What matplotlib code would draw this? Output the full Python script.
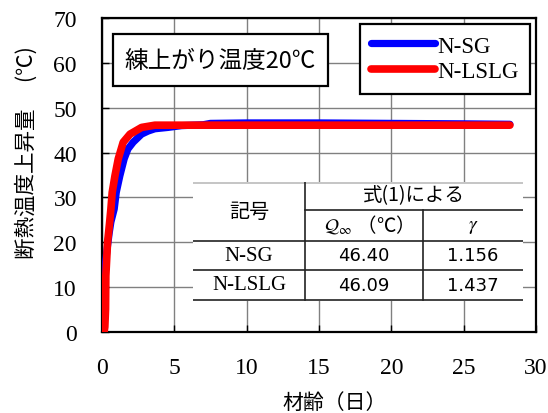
import matplotlib
matplotlib.use('Agg')
import matplotlib.pyplot as plt
from matplotlib.patches import Rectangle

plt.rcParams['font.family'] = ['Liberation Serif', 'Noto Sans CJK JP']
plt.rcParams['mathtext.fontset'] = 'stix'

# curves (age in days, adiabatic temperature rise)
t_sg = [0.0, 0.03, 0.06, 0.25, 0.38, 0.5, 0.62, 0.85, 0.99, 1.24, 1.54, 1.8,
        2.16, 2.74, 3.2, 3.66, 4.56, 5.5, 7.0, 7.5, 10, 15, 20, 25, 28.2]
temp_sg = [0.0, 5.0, 13.0, 15.5, 19.0, 22.0, 24.5, 27.4, 31.1, 34.8, 38.6, 40.8,
           42.3, 44.1, 44.8, 45.3, 45.6, 46.0, 46.2, 46.5, 46.6, 46.6, 46.5, 46.4, 46.3]

t_lslg = [0.15, 0.2, 0.25, 0.27, 0.39, 0.52, 0.62, 0.71, 0.9, 1.13, 1.47,
          1.94, 2.74, 3.66, 5, 10, 15, 20, 25, 28.2]
temp_lslg = [0.0, 1.1, 5.1, 12.5, 20.0, 24.0, 27.4, 31.1, 34.8, 38.6, 42.3,
             44.1, 45.6, 46.1, 46.1, 46.1, 46.1, 46.1, 46.1, 46.1]

series = ['N-SG', 'N-LSLG']
q_inf = ['46.40', '46.09']
gamma = ['1.156', '1.437']

fig = plt.figure(figsize=(5.48, 4.14), dpi=100)
ax = fig.add_axes([0.186, 0.196, 0.792, 0.758])

ax.plot(t_sg, temp_sg, color='#0000ff', lw=5.2, solid_capstyle='round', label=series[0], zorder=3)
ax.plot(t_lslg, temp_lslg, color='#ff0000', lw=5.5, solid_capstyle='round', label=series[1], zorder=4)

ax.set_xlim(0, 30)
ax.set_ylim(0, 70)
ax.set_xticks(range(0, 31, 5))
ax.set_yticks(range(0, 71, 10))
ax.grid(True, color='#808080', lw=1.0)
ax.set_axisbelow(True)
ax.tick_params(direction='in', length=5, width=1, labelsize=17, pad=18)
for s in ax.spines.values():
    s.set_linewidth(1.6)

fig.text(27 / 548, 1 - 153 / 414, '断熱温度上昇量　 (℃)', fontsize=15.5, rotation=90,
         family=['Noto Sans CJK JP'], ha='center', va='center')
fig.text(0.61, 0.0, '材齢（日）', fontsize=15, family=['Noto Sans CJK JP'], ha='center', va='bottom')

# condition box
ax.add_patch(Rectangle((0.025, 0.783), 0.495, 0.165, transform=ax.transAxes,
                       facecolor='white', edgecolor='black', lw=1.6, zorder=5))
ax.text(0.272, 0.865, '練上がり温度20℃', transform=ax.transAxes, fontsize=17,
        family=['Noto Sans CJK JP'], ha='center', va='center', zorder=6)

leg = ax.legend(loc='upper right', bbox_to_anchor=(0.987, 0.981), fontsize=16.5,
                handlelength=2.8, handletextpad=0.1, labelspacing=0.2,
                borderpad=0.5, borderaxespad=0, fancybox=False, framealpha=1,
                edgecolor='black')
leg.get_frame().set_linewidth(1.6)
leg.set_zorder(6)

# parameter table (figure pixel layout -> axes inset)
tab = fig.add_axes([193 / 548, 1 - 302 / 414, 330 / 548, 119 / 414])
tab.set_xlim(193, 523)
tab.set_ylim(302, 183)
tab.axis('off')
tab.add_patch(Rectangle((193, 183), 330, 119, facecolor='white', edgecolor='none'))
lc = '#222222'
tab.plot([193, 523], [183.5, 183.5], color='#bbbbbb', lw=1.2)
tab.plot([305, 305], [183, 301], color=lc, lw=1.2)
tab.plot([305, 523], [211, 211], color=lc, lw=1.2)
tab.plot([423, 423], [211, 301], color=lc, lw=1.2)
for yy in (242, 271, 301):
    tab.plot([193, 523], [yy, yy], color=lc, lw=1.2)

cjk = ['Noto Sans CJK JP']
tab.text(249, 212, '記号', fontsize=14.5, family=cjk, ha='center', va='center')
tab.text(414, 196, '式(1)による', fontsize=14, family=cjk, ha='center', va='center')
tab.text(364, 226, r'$\mathcal{Q}_{\infty}$ （℃）', fontsize=14, family=cjk, ha='center', va='center')
tab.text(473, 228, r'$\gamma$', fontsize=14, ha='center', va='center')
for i, name in enumerate(series):
    yy = 256.5 + i * 29.5
    tab.text(249, yy, name, fontsize=15, ha='center', va='center')
    tab.text(364, yy, q_inf[i], fontsize=13, family=['DejaVu Sans'], ha='center', va='center')
    tab.text(473, yy, gamma[i], fontsize=13, family=['DejaVu Sans'], ha='center', va='center')

fig.savefig('out.png', dpi=100)
